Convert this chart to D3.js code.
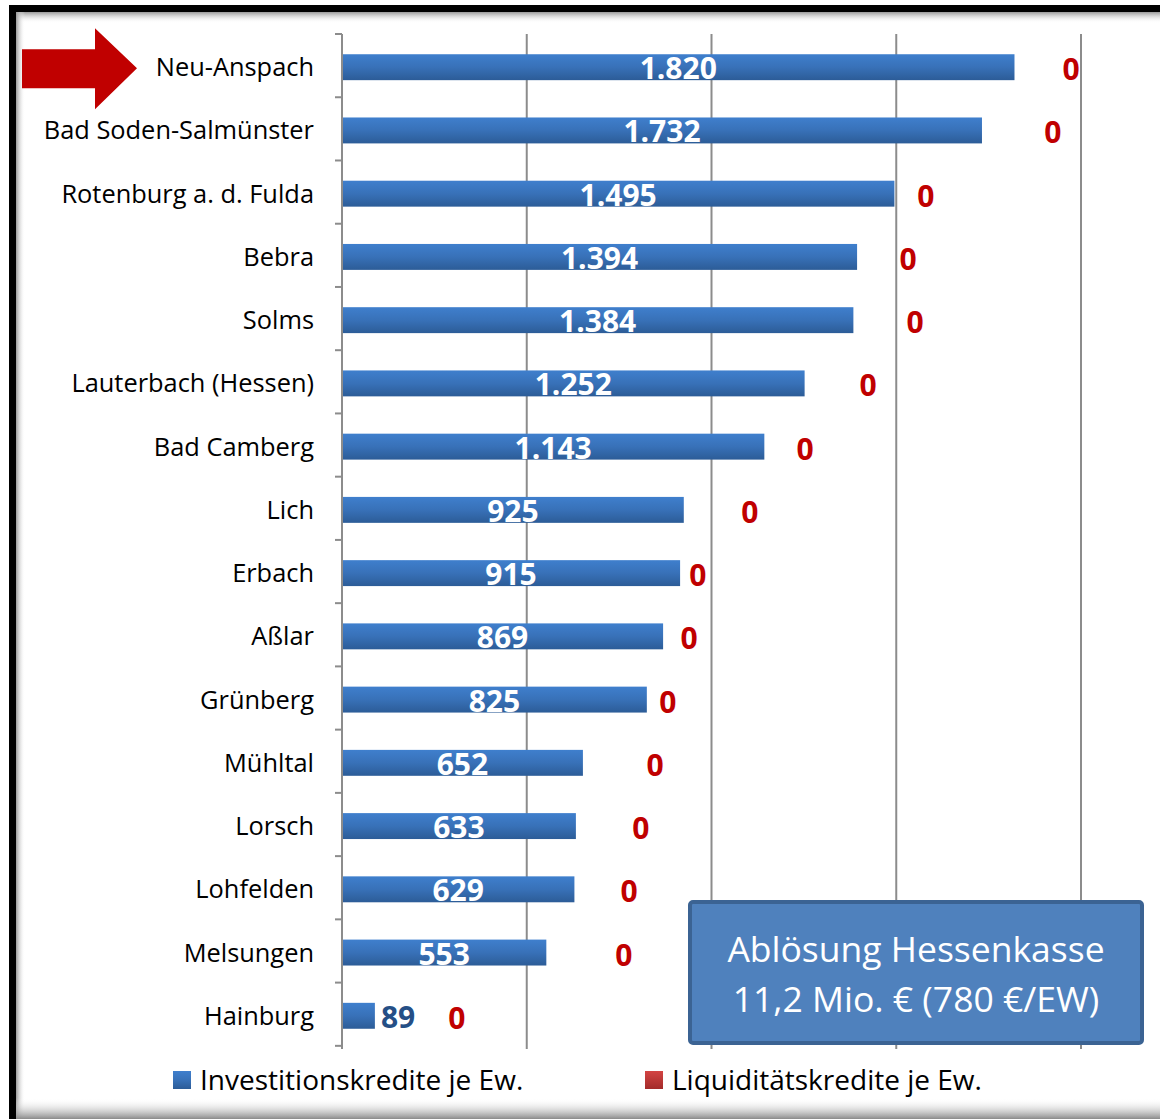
<!DOCTYPE html>
<html>
<head>
<meta charset="utf-8">
<script src="https://cdnjs.cloudflare.com/ajax/libs/d3/7.8.5/d3.min.js"></script>
<style>
  body { margin: 0; background: #fff; }
  svg { display: block; font-family: "Open Sans", sans-serif; }
</style>
</head>
<body>
<svg width="1160" height="1119"></svg>
<script>
// data
var cities = ["Neu-Anspach", "Bad Soden-Salmünster", "Rotenburg a. d. Fulda", "Bebra", "Solms",
  "Lauterbach (Hessen)", "Bad Camberg", "Lich", "Erbach", "Aßlar", "Grünberg", "Mühltal",
  "Lorsch", "Lohfelden", "Melsungen", "Hainburg"];
var invest = [1820, 1732, 1495, 1394, 1384, 1252, 1143, 925, 915, 869, 825, 652, 633, 629, 553, 89];
var liquid = [0, 0, 0, 0, 0, 0, 0, 0, 0, 0, 0, 0, 0, 0, 0, 0];
// where the "0" labels of the Liquiditätskredite were dragged to (value units)
var liqLabelAt = [1973, 1924, 1580, 1532, 1551, 1424, 1253, 1104, 963, 939, 882, 847, 809, 777, 763, 311];
var gridTicks = [500, 1000, 1500, 2000];
var seriesNames = ["Investitionskredite je Ew.", "Liquiditätskredite je Ew."];
var noteLines = ["Ablösung Hessenkasse", "11,2 Mio. € (780 €/EW)"];

var svg = d3.select("svg"),
    width = +svg.attr("width"),
    height = +svg.attr("height");

var fmt = d3.formatLocale({decimal: ",", thousands: ".", grouping: [3], currency: ["", " €"]}).format(",");

var defs = svg.append("defs");
function vGrad(id, stops) {
  var g = defs.append("linearGradient").attr("id", id)
    .attr("x1", 0).attr("y1", 0).attr("x2", 0).attr("y2", 1);
  stops.forEach(function(s) {
    g.append("stop").attr("offset", s[0]).attr("stop-color", s[1]).attr("stop-opacity", s[2] == null ? 1 : s[2]);
  });
}
vGrad("blueGrad", [[0, "#3f7fcd"], [0.5, "#3871b8"], [1, "#2c5c97"]]);
vGrad("redGrad", [[0, "#d34443"], [1, "#a32b2a"]]);
vGrad("topShadow", [[0, "#999", 1], [1, "#fff", 0]]);
vGrad("bottomShadow", [[0, "#fff", 0], [1, "#8a8a8a", 1]]);
var lg = defs.append("linearGradient").attr("id", "leftShadow")
  .attr("x1", 0).attr("y1", 0).attr("x2", 1).attr("y2", 0);
lg.append("stop").attr("offset", 0).attr("stop-color", "#999");
lg.append("stop").attr("offset", 1).attr("stop-color", "#fff").attr("stop-opacity", 0);

// frame with shadow
svg.append("rect").attr("x", 0).attr("y", 0).attr("width", width).attr("height", height).attr("fill", "#fff");
svg.append("rect").attr("x", 16).attr("y", 12).attr("width", width - 16).attr("height", 11).attr("fill", "url(#topShadow)");
svg.append("rect").attr("x", 16).attr("y", 12).attr("width", 9).attr("height", height - 12).attr("fill", "url(#leftShadow)");
svg.append("rect").attr("x", 16).attr("y", 1098).attr("width", width - 16).attr("height", 21).attr("fill", "url(#bottomShadow)");
svg.append("rect").attr("x", 9).attr("y", 5).attr("width", width - 9).attr("height", 7).attr("fill", "#000");
svg.append("rect").attr("x", 9).attr("y", 5).attr("width", 7).attr("height", height - 5).attr("fill", "#000");

// scales
var x = d3.scaleLinear().domain([0, 2000]).range([342, 1081]);
var y = d3.scaleBand().domain(cities).range([34, 1049]).paddingInner(0.59).paddingOuter(0.32);
var step = y.step();

// gridlines
svg.append("g").selectAll("line").data(gridTicks).enter().append("line")
  .attr("x1", function(d) { return x(d); }).attr("x2", function(d) { return x(d); })
  .attr("y1", 34).attr("y2", 1049)
  .attr("stroke", "#8c8c8c").attr("stroke-width", 2);

// category axis
var axis = svg.append("g").attr("transform", "translate(" + x(0) + ",0)");
axis.append("line").attr("x1", 0).attr("x2", 0).attr("y1", 34).attr("y2", 1049)
  .attr("stroke", "#8c8c8c").attr("stroke-width", 2);
axis.selectAll(".tk").data(d3.range(cities.length + 1)).enter().append("line")
  .attr("x1", -7).attr("x2", 0)
  .attr("y1", function(i) { return 34 + i * step; })
  .attr("y2", function(i) { return 34 + i * step; })
  .attr("stroke", "#8c8c8c").attr("stroke-width", 2);
axis.selectAll("text").data(cities).enter().append("text")
  .attr("x", -28)
  .attr("y", function(d) { return y(d) + y.bandwidth() / 2 + 9; })
  .attr("text-anchor", "end")
  .attr("font-size", 25.4)
  .attr("fill", "#000")
  .text(function(d) { return d; });

// bars
var rows = cities.map(function(c, i) { return {city: c, inv: invest[i], liq: liquid[i], at: liqLabelAt[i]}; });
var bar = svg.append("g").selectAll("g").data(rows).enter().append("g");
bar.append("rect")
  .attr("x", x(0) + 1)
  .attr("y", function(d) { return y(d.city); })
  .attr("width", function(d) { return x(d.inv) - x(0) - 1; })
  .attr("height", y.bandwidth())
  .attr("fill", "url(#blueGrad)");
bar.append("rect")
  .attr("x", x(0) + 1)
  .attr("y", function(d) { return y(d.city); })
  .attr("width", function(d) { return x(d.liq) - x(0); })
  .attr("height", y.bandwidth())
  .attr("fill", "url(#redGrad)");

// value labels
bar.append("text")
  .attr("x", function(d) {
    var w = x(d.inv) - x(0);
    return w < 60 ? x(d.inv) + 6 : x(0) + w / 2;
  })
  .attr("y", function(d) { return y(d.city) + y.bandwidth() / 2 + 12; })
  .attr("text-anchor", function(d) { return x(d.inv) - x(0) < 60 ? "start" : "middle"; })
  .attr("font-size", 30).attr("font-weight", "bold")
  .attr("fill", function(d) { return x(d.inv) - x(0) < 60 ? "#254f86" : "#fff"; })
  .text(function(d) { return fmt(d.inv); });
bar.append("text")
  .attr("x", function(d) { return x(d.at); })
  .attr("y", function(d) { return y(d.city) + y.bandwidth() / 2 + 13; })
  .attr("text-anchor", "middle")
  .attr("font-size", 30).attr("font-weight", "bold")
  .attr("fill", "#c00000")
  .text(function(d) { return fmt(d.liq); });

// red arrow pointing at the first city
var ay = y(cities[0]) + y.bandwidth() / 2 + 1;
svg.append("path")
  .attr("d", "M22," + (ay - 19) + "H95V" + (ay - 40) + "L137," + ay + "L95," + (ay + 41) + "V" + (ay + 20) + "H22Z")
  .attr("fill", "#c00000");

// note box
var note = svg.append("g").attr("transform", "translate(690,902)");
note.append("rect").attr("width", 452).attr("height", 141).attr("rx", 3)
  .attr("fill", "#4f81bd").attr("stroke", "#3b6393").attr("stroke-width", 4);
note.selectAll("text").data(noteLines).enter().append("text")
  .attr("x", 226).attr("y", function(d, i) { return 60 + i * 50; })
  .attr("text-anchor", "middle").attr("font-size", 35.5).attr("fill", "#fff")
  .text(function(d) { return d; });

// legend
var legX = [173, 645];
var leg = svg.append("g").selectAll("g").data(seriesNames).enter().append("g")
  .attr("transform", function(d, i) { return "translate(" + legX[i] + ",1071)"; });
leg.append("rect").attr("width", 18).attr("height", 18)
  .attr("fill", function(d, i) { return i === 0 ? "url(#blueGrad)" : "url(#redGrad)"; });
leg.append("text").attr("x", 27).attr("y", 19).attr("font-size", 28).attr("fill", "#000")
  .text(function(d) { return d; });
</script>
</body>
</html>
